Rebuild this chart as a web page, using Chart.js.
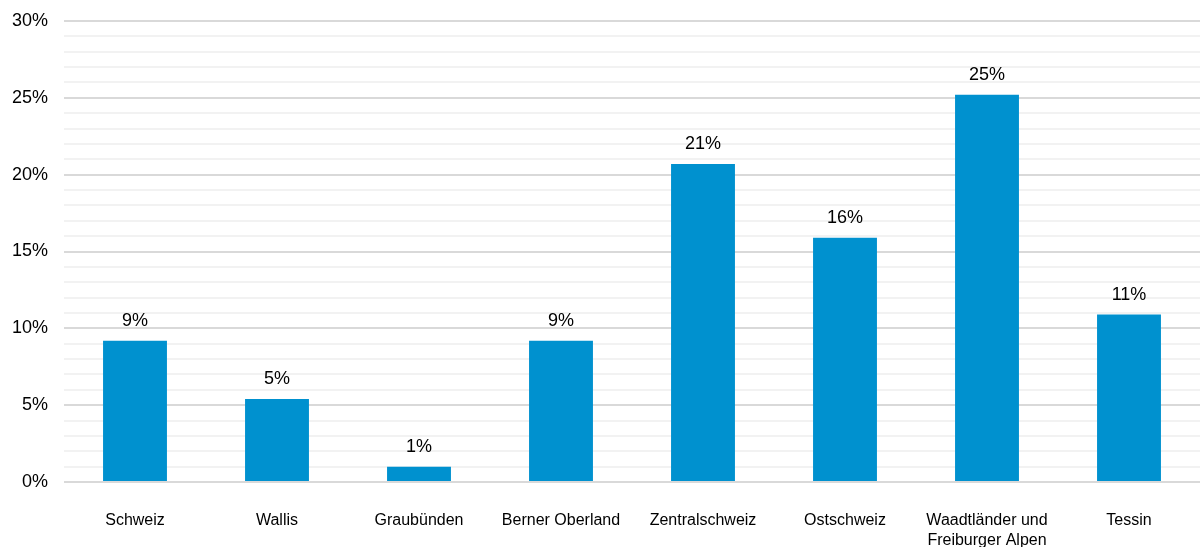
<!DOCTYPE html>
<html>
<head>
<meta charset="utf-8">
<script src="https://cdn.jsdelivr.net/npm/chart.js@4"></script>
<style>
  html, body { margin: 0; padding: 0; background: #fff; }
  #wrap { width: 1200px; height: 547px; }
</style>
</head>
<body>
<div id="wrap"><canvas id="chart"></canvas></div>
<script>
const regions = ['Schweiz', 'Wallis', 'Graubünden', 'Berner Oberland', 'Zentralschweiz', 'Ostschweiz', ['Waadtländer und', 'Freiburger Alpen'], 'Tessin'];
const shares = [9.2, 5.4, 1.0, 9.2, 20.7, 15.9, 25.2, 10.9];
const yTicks = [0, 5, 10, 15, 20, 25, 30];

// value labels above the bars
const barLabels = {
    id: 'barLabels',
    afterDatasetsDraw(chart) {
        const ctx = chart.ctx;
        const meta = chart.getDatasetMeta(0);
        ctx.save();
        ctx.font = '18px "Liberation Sans", Arial, sans-serif';
        ctx.fillStyle = '#000';
        ctx.textAlign = 'center';
        ctx.textBaseline = 'alphabetic';
        meta.data.forEach((bar, i) => {
            ctx.fillText(Math.round(shares[i]) + '%', bar.x, bar.y - 15);
        });
        ctx.restore();
    }
};

new Chart(document.getElementById('chart'), {
    type: 'bar',
    data: {
        labels: regions,
        datasets: [{
            data: shares,
            backgroundColor: '#0091cf',
            categoryPercentage: 0.45,
            barPercentage: 1.0
        }]
    },
    options: {
        responsive: true,
        maintainAspectRatio: false,
        animation: false,
        layout: { padding: 0 },
        plugins: {
            legend: { display: false },
            tooltip: { enabled: false }
        },
        scales: {
            x: {
                grid: { display: false },
                border: { display: false },
                afterFit: scale => { scale.height = 65; },
                ticks: {
                    color: '#000',
                    font: { family: '"Liberation Sans", Arial, sans-serif', size: 16, lineHeight: 1.25 },
                    padding: 21,
                    maxRotation: 0,
                    autoSkip: false
                }
            },
            y: {
                min: 0,
                max: 30,
                border: { display: false },
                afterFit: scale => {
                    scale.width = 64;
                    scale.paddingTop = 21;
                },
                grid: {
                    drawTicks: false,
                    lineWidth: 2,
                    color: c => yTicks.includes(c.tick.value) ? '#d9d9d9' : '#f2f2f2'
                },
                ticks: {
                    stepSize: 1,
                    autoSkip: false,
                    padding: 16,
                    color: '#000',
                    font: { family: '"Liberation Sans", Arial, sans-serif', size: 18 },
                    callback: v => yTicks.includes(v) ? v + '%' : ''
                }
            }
        }
    },
    plugins: [barLabels]
});
</script>
</body>
</html>
